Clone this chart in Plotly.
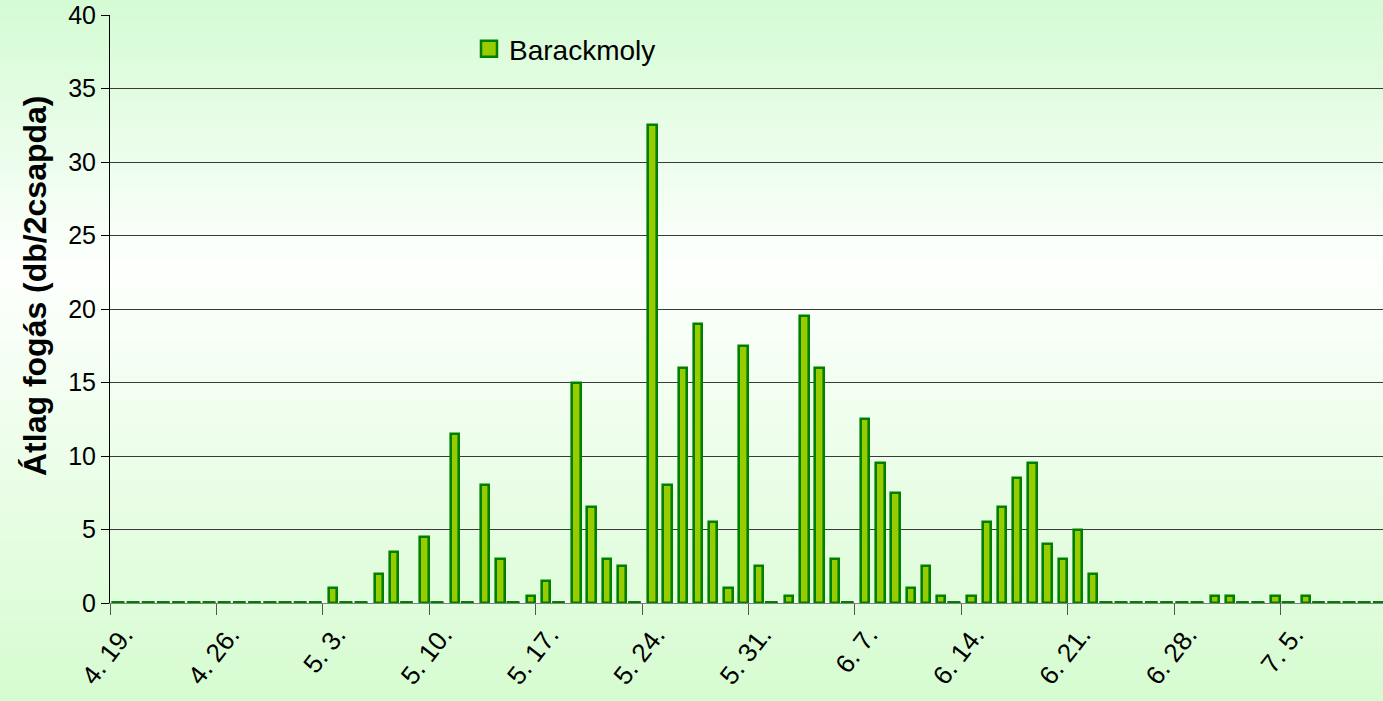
import numpy as np
import pandas as pd
import plotly.graph_objects as go

# ---- data (daily average catch, from 4.19) ----
start_date = "2009-04-19"
values = [
    0, 0, 0, 0, 0, 0, 0, 0, 0, 0, 0, 0, 0, 0,        # 4.19 - 5.2
    1.0, 0, 0, 2.0, 3.5, 0, 4.5, 0, 11.5, 0,          # 5.3 - 5.12
    8.0, 3.0, 0, 0.5, 1.5, 0, 15.0, 6.5, 3.0, 2.5,    # 5.13 - 5.22
    0, 32.5, 8.0, 16.0, 19.0, 5.5, 1.0, 17.5, 2.5, 0, # 5.23 - 6.1
    0.5, 19.5, 16.0, 3.0, 0, 12.5, 9.5, 7.5, 1.0, 2.5,# 6.2 - 6.11
    0.5, 0, 0.5, 5.5, 6.5, 8.5, 9.5, 4.0, 3.0, 5.0,   # 6.12 - 6.21
    2.0, 0, 0, 0, 0, 0, 0, 0, 0.5, 0.5,               # 6.22 - 7.1
    0, 0, 0.5, 0, 0.5, 0, 0, 0, 0, 0, 0,              # 7.2 - 7.12
]
series_name = "Barackmoly"
y_title = "Átlag fogás (db/2csapda)"

dates = pd.date_range(start_date, periods=len(values), freq="D")
vals = np.array(values, dtype=float)
zero_mask = vals == 0

DAY = 86400000
FONT = "Arial, Liberation Sans, sans-serif"
BAR_W = 0.55
FILL, EDGE = "#99CC00", "#008000"

fig = go.Figure()

fig.add_trace(go.Bar(
    x=dates, y=vals, name=series_name, showlegend=False,
    xperiod=DAY, xperiodalignment="middle",
    width=BAR_W * DAY, offset=(-BAR_W / 2 + 0.18) * DAY,
    marker=dict(color=FILL, line=dict(color=EDGE, width=2.6)),
))

# floor dashes for days with zero catch
fig.add_trace(go.Scatter(
    x=dates[zero_mask], y=np.zeros(zero_mask.sum()),
    xperiod=DAY, xperiodalignment="middle",
    mode="markers", showlegend=False, hoverinfo="skip",
    marker=dict(symbol="line-ew", size=9, line=dict(color=EDGE, width=4)),
))

# legend entry with a larger square swatch
fig.add_trace(go.Scatter(
    x=[None], y=[None], name=series_name, mode="markers",
    marker=dict(symbol="square", size=16, color=FILL, line=dict(color=EDGE, width=2.5)),
))

# background gradient (chart area), built as horizontal strips in paper coords
H, TOP, BOT = 701, 15, 603
stops_px = [0, 270, 701]
stops_col = [(212, 251, 212), (253, 255, 253), (214, 252, 208)]
shapes = []
n = 70
for i in range(n):
    p0 = H * i / n
    p1 = H * (i + 1) / n
    pm = (p0 + p1) / 2
    c = [np.interp(pm, stops_px, [s[k] for s in stops_col]) for k in range(3)]
    shapes.append(dict(
        type="rect", xref="paper", yref="paper", layer="below",
        x0=-0.1, x1=1.02,
        y0=(BOT - p1) / (BOT - TOP), y1=(BOT - p0) / (BOT - TOP) + 0.001,
        fillcolor="rgb(%d,%d,%d)" % tuple(int(round(v)) for v in c),
        line=dict(width=0),
    ))
# floor band
shapes.append(dict(type="line", xref="paper", yref="y", layer="between",
                   x0=0, x1=1, y0=0, y1=0,
                   line=dict(color="#f4f8f4", width=5)))

x_end = dates[0] + pd.Timedelta(hours=24 * 83.75)

fig.update_layout(
    width=1383, height=701,
    margin=dict(l=110, r=0, t=15, b=98),
    paper_bgcolor="#dcfcd8",
    plot_bgcolor="rgba(0,0,0,0)",
    font=dict(family=FONT, size=25, color="black"),
    shapes=shapes,
    bargap=0,
    legend=dict(x=0.282, y=0.942, xanchor="left", yanchor="middle",
                bgcolor="rgba(0,0,0,0)", font=dict(size=28, family=FONT),
                itemsizing="trace"),
    showlegend=True,
    annotations=[dict(
        text="<b>%s</b>" % y_title, textangle=-90,
        xref="paper", yref="paper",
        x=(35 - 110) / 1273, y=(603 - 286) / 588,
        xanchor="center", yanchor="middle", showarrow=False,
        font=dict(size=32, family=FONT, color="black"),
    )],
)

fig.update_xaxes(
    type="date",
    range=[dates[0], x_end],
    tick0=dates[0], dtick=7 * DAY,
    tickformat="%-m. %-d.",
    tickangle=-52,
    ticks="outside", ticklen=11, tickcolor="#555555", tickwidth=1,
    tickfont=dict(size=26, family=FONT),
    ticklabelshift=14, ticklabelstandoff=-6,
    showgrid=False, zeroline=False,
    showline=True, linecolor="#808080", linewidth=1,
    automargin=False,
)

fig.update_yaxes(
    range=[0, 40], dtick=5,
    ticks="outside", ticklen=8, tickcolor="black",
    tickfont=dict(size=25, family=FONT),
    showgrid=True, gridcolor="#3a3a3a", gridwidth=1,
    zeroline=False,
    showline=True, linecolor="black", linewidth=1,
    automargin=False,
)

fig.write_html("out.html", config={"displayModeBar": False},
               post_script="document.body.style.margin='0px';")
